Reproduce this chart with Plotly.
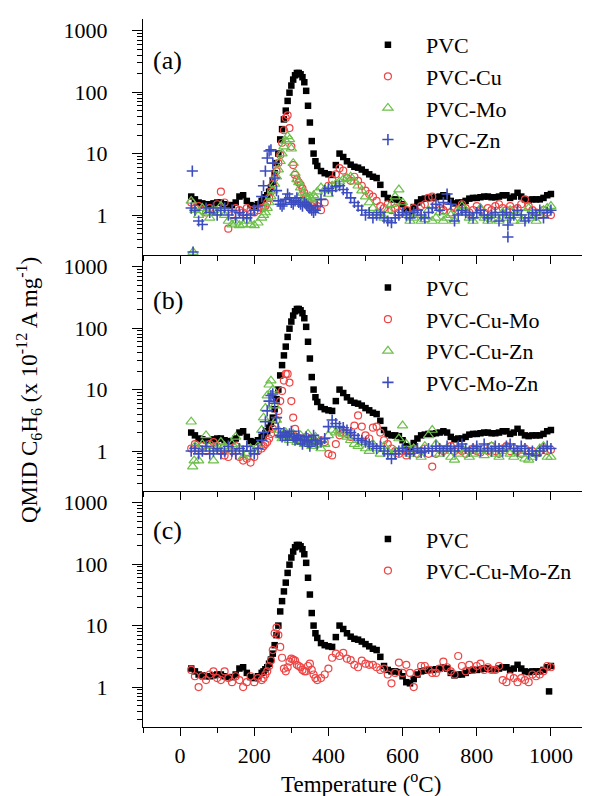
import plotly.graph_objects as go

# ---------------- data ----------------
temperature = [
    30, 40, 50, 60, 70, 80, 90, 100, 110, 120,
    130, 140, 150, 160, 170, 180, 190, 200, 210, 220,
    225, 230, 235, 240, 245, 250, 255, 260, 265, 270,
    275, 280, 285, 290, 295, 300, 305, 310, 315, 320,
    325, 330, 335, 340, 345, 350, 355, 360, 365, 370,
    380, 390, 400, 410, 420, 430, 440, 450, 460, 470,
    480, 490, 500, 510, 520, 530, 540, 550, 560, 570,
    580, 590, 600, 610, 620, 630, 640, 650, 660, 670,
    680, 690, 700, 710, 720, 730, 740, 750, 760, 770,
    780, 790, 800, 810, 820, 830, 840, 850, 860, 870,
    880, 890, 900, 910, 920, 930, 940, 950, 960, 970,
    980, 990, 1000,
]

pvc = [
    2.0, 1.8, 1.6, 1.55, 1.5, 1.5, 1.55, 1.6, 1.6, 1.5,
    1.45, 1.45, 1.6, 2.0, 2.1, 1.7, 1.45, 1.4, 1.5, 1.7,
    1.8, 1.95, 2.1, 2.4, 2.8, 3.5, 4.8, 7.0, 10, 17,
    25, 36, 50, 72, 98, 128, 160, 188, 205, 205,
    195, 175, 145, 105, 60, 32, 16, 10, 7.5, 6.3,
    5.2, 4.8, 4.6, 4.5, 6.5, 10, 8.8, 7.5, 6.6, 6.1,
    5.9, 5.5, 5.0, 4.6, 4.2, 4.0, 3.1, 2.2, 1.9, 1.8,
    1.8, 1.75, 1.5, 1.2, 1.15, 1.35, 1.6, 1.8, 1.85, 1.9,
    1.9, 1.95, 2.0, 2.1, 2.0, 1.7, 1.55, 1.6, 1.6, 1.7,
    1.85, 1.9, 1.9, 1.95, 2.0, 2.0, 1.95, 1.95, 2.0, 2.1,
    2.1, 1.9, 2.0, 2.3, 2.0, 1.8, 1.75, 1.8, 1.8, 1.8,
    1.9, 2.1, 2.2,
]

pvc_cu = [
    1.6, 1.3, 1.4, 1.2, 1.1, 1.3, 1.2, 1.5, 2.4, 1.6,
    0.6, 1.0, 1.3, 1.2, 1.1, 1.3, 1.2, 1.1, 1.2, 1.3,
    1.3, 1.4, 1.6, 1.9, 2.4, 3.2, 4.0, 5.2, 7.0, 9.5,
    15, 24, 38, 42, 26, 13, 6.5, 4.5, 3.8, 3.4,
    3.1, 2.7, 2.3, 2.0, 1.6, 1.3, 1.4, 1.5, 1.3, 1.4,
    1.2, 1.6, 3.0, 3.8, 4.6, 5.8, 5.3, 4.0, 3.6, 4.2,
    3.6, 3.0, 2.5, 2.2, 2.0, 1.7, 1.4, 1.3, 1.5, 1.2,
    1.3, 1.1, 1.4, 1.2, 1.0, 1.3, 1.1, 1.4, 1.5, 1.9,
    2.0, 1.5, 1.3, 1.2, 1.4, 1.1, 1.3, 1.2, 1.5, 1.3,
    1.1, 1.2, 1.4, 1.2, 1.1, 1.3, 1.2, 1.4, 1.5, 1.3,
    1.2, 1.4, 1.2, 1.3, 1.5, 1.8, 1.4, 1.2, 1.1, 1.0,
    1.2, 1.1, 1.0,
]

pvc_mo = [
    1.7, 1.2, 1.0, 1.3, 1.1, 0.9, 1.2, 1.1, 1.4, 1.0,
    0.8, 0.7, 0.75, 0.68, 0.7, 0.8, 0.7, 0.68, 0.75, 0.9,
    1.0, 1.1, 1.3, 1.6, 2.0, 2.5, 3.2, 4.2, 5.5, 7.5,
    10, 13, 16, 19, 17, 12, 7.0, 4.8, 3.8, 3.4,
    2.8, 2.3, 2.0, 1.9, 1.8, 2.0, 1.8, 2.1, 1.9, 2.4,
    2.8, 2.6, 2.2, 3.0, 3.2, 3.5, 3.8, 4.0, 4.2, 3.5,
    3.0, 2.5, 2.0, 1.6, 1.3, 1.1, 1.0, 0.9, 1.2, 1.5,
    2.0, 2.6, 1.6, 1.0, 0.8, 0.9, 1.0, 0.8, 0.85, 1.2,
    0.8, 0.9, 1.1, 0.8, 0.9, 1.0, 0.8, 1.1, 1.4, 1.2,
    0.9, 0.8, 1.0, 1.3, 0.9, 0.8, 0.85, 1.0, 0.8, 1.1,
    0.9, 1.2, 0.8, 1.0, 0.8, 1.1, 1.3, 0.9, 0.8, 1.0,
    1.2, 1.3, 1.4,
]

pvc_zn = [
    1.3, 1.2, 0.8, 0.7, 1.3, 1.1, 1.3, 1.0, 1.2, 1.3,
    1.0, 1.2, 0.9, 1.1, 1.0, 0.9, 1.0, 1.2, 1.4, 2.0,
    3.0, 5.2, 8.5, 11, 11.5, 7.0, 4.0, 2.5, 1.7, 1.5,
    1.4, 1.5, 1.8, 2.2, 1.9, 1.6, 1.5, 1.7, 1.9, 1.6,
    1.5, 1.4, 1.6, 1.5, 1.4, 1.3, 1.2, 1.1, 1.2, 1.4,
    1.8, 2.5, 2.7, 2.5, 2.9, 3.0, 2.6, 2.3, 1.9, 1.6,
    1.4, 1.2, 1.0, 1.1, 0.9, 1.0, 1.1, 0.9, 0.8, 0.75,
    0.9, 1.0, 1.1, 1.0, 0.9, 1.1, 1.2, 1.0, 0.9, 1.1,
    1.3, 1.5, 1.2, 1.6, 2.2, 1.5, 0.8, 1.0, 1.2, 1.1,
    1.0, 0.9, 1.1, 1.2, 1.0, 0.9, 1.0, 1.1, 0.8, 1.0,
    1.1, 0.9, 1.0, 1.2, 1.0, 0.8, 0.9, 1.1, 1.0, 1.2,
    0.9, 1.1, 1.2,
]

pvc_cu_mo = [
    1.1, 1.3, 1.1, 1.2, 1.0, 1.3, 1.4, 1.2, 1.0, 0.85,
    0.8, 1.0, 1.2, 0.8, 0.7, 0.75, 0.65, 0.8, 1.0, 1.1,
    1.2, 1.3, 1.4, 1.6, 1.9, 2.3, 2.6, 3.2, 4.5, 6.5,
    9.5, 14, 18, 18, 13, 6.5, 3.5, 2.3, 1.7, 1.5,
    1.6, 1.4, 1.5, 1.7, 1.5, 1.3, 1.6, 1.5, 1.4, 1.3,
    1.5, 1.4, 0.9, 0.85, 1.3, 1.8, 2.0, 1.9, 1.7, 2.6,
    3.8, 2.5, 1.8, 1.6, 2.4, 2.5, 2.0, 1.5, 1.3, 1.1,
    1.0, 0.9, 1.0, 0.85, 1.0, 1.1, 0.9, 1.0, 1.1, 0.9,
    0.56, 0.9, 1.1, 1.0, 1.1, 1.2, 1.0, 1.1, 1.0, 0.9,
    1.0, 1.1, 1.0, 0.95, 1.1, 1.0, 1.2, 1.0, 0.9, 1.1,
    1.2, 1.0, 1.1, 1.0, 0.9, 1.1, 1.0, 1.0, 0.9, 1.0,
    1.1, 1.0, 1.05,
]

pvc_cu_zn = [
    3.0, 1.2, 0.7, 1.3, 1.8, 1.2, 0.7, 1.1, 1.4, 1.2,
    1.0, 1.3, 1.7, 1.1, 0.8, 0.9, 1.1, 1.0, 1.2, 2.2,
    3.5, 5.0, 8.0, 12, 14, 10, 5.5, 3.2, 2.2, 1.8,
    1.6, 1.8, 2.0, 1.7, 1.5, 1.7, 1.9, 1.6, 1.4, 1.6,
    1.8, 1.5, 1.3, 1.6, 1.9, 1.4, 1.2, 1.5, 1.7, 1.3,
    1.1, 1.3, 1.8, 2.2, 2.0, 2.1, 1.9, 1.7, 1.5, 1.3,
    1.2, 1.4, 1.1, 1.0, 1.3, 1.1, 0.9, 1.2, 1.0, 0.8,
    1.0, 1.6, 2.6, 1.3, 0.9, 1.1, 1.0, 0.8, 1.2, 1.8,
    2.2, 1.3, 0.9, 1.0, 1.1, 0.8, 0.72, 0.9, 1.1, 1.0,
    0.8, 0.9, 1.1, 1.0, 0.85, 1.0, 1.2, 0.9, 0.8, 1.0,
    1.1, 0.9, 0.8, 1.0, 0.9, 0.75, 0.72, 0.8, 0.9, 1.1,
    1.2, 0.8, 0.8,
]

pvc_mo_zn = [
    1.0, 1.1, 0.9, 1.0, 1.2, 0.9, 1.0, 1.1, 0.9, 1.0,
    1.2, 1.0, 0.9, 1.1, 1.0, 1.2, 1.0, 0.9, 1.1, 1.5,
    2.0, 3.0, 4.5, 6.5, 8.0, 8.5, 6.0, 3.5, 2.3, 1.8,
    1.7, 2.0, 1.8, 1.5, 1.9, 2.1, 1.7, 1.5, 1.6, 1.8,
    1.5, 1.3, 1.5, 1.7, 1.4, 1.2, 1.5, 1.8, 1.5, 1.3,
    1.4, 1.6, 2.5, 3.2, 2.8, 2.5, 2.4, 2.2, 2.0, 1.8,
    1.6, 1.5, 1.4, 1.3, 1.2, 1.1, 1.2, 1.0, 0.9, 0.75,
    0.9, 1.0, 1.1, 1.0, 0.9, 1.0, 1.1, 0.95, 1.0, 1.1,
    1.0, 1.2, 1.1, 1.0, 1.2, 1.1, 1.0, 1.2, 1.3, 1.1,
    1.0, 1.1, 1.2, 1.0, 1.3, 1.1, 1.0, 1.2, 1.1, 1.0,
    1.2, 1.3, 1.1, 1.0, 1.2, 1.1, 0.9, 1.0, 0.85, 1.0,
    1.1, 1.2, 1.1,
]

pvc_cu_mo_zn = [
    1.9, 1.5, 1.0, 1.5, 1.3, 1.6, 1.8, 1.4, 1.3, 1.8,
    1.4, 1.2, 1.5, 1.3, 1.0, 1.2, 1.5, 1.2, 1.4, 1.3,
    1.4, 1.6, 1.8, 2.2, 2.7, 4.0, 7.5, 9.3, 7.0, 4.5,
    3.0, 2.0, 1.8, 2.1, 2.6, 2.9, 2.8, 2.7, 2.3, 2.2,
    2.1, 1.9, 1.8, 1.8, 2.2, 2.4, 1.9, 1.6, 1.4, 1.3,
    1.4, 1.6, 2.0, 3.0, 3.5, 3.2, 3.6, 2.9, 2.75, 2.3,
    2.1, 2.7, 2.4, 2.3, 2.3, 2.1, 1.9, 2.0, 1.6, 1.15,
    1.7, 2.5, 1.7, 2.3, 1.7, 1.0, 1.7, 2.2, 2.2, 1.9,
    1.7, 1.7, 2.0, 2.6, 2.1, 1.8, 1.6, 3.2, 2.2, 1.8,
    2.3, 1.9, 2.2, 2.4, 1.9, 2.1, 1.9, 1.9, 2.2, 1.3,
    1.2, 1.5, 1.4, 1.2, 1.4, 1.3, 1.2, 1.6, 1.5, 1.6,
    1.8, 2.2, 2.1,
]

# isolated points that sit off the main grid
zn_extra_temp = [33, 35, 884, 884]
zn_extra_val = [5.2, 0.25, 0.69, 0.44]
mo_extra_temp = [35]
mo_extra_val = [0.25]
cu_zn_extra_temp = [34, 38]
cu_zn_extra_val = [0.56, 0.7]
pvc_c_extra_temp = [995]
pvc_c_extra_val = [0.85]

for s in (pvc, pvc_cu, pvc_mo, pvc_zn, pvc_cu_mo, pvc_cu_zn, pvc_mo_zn, pvc_cu_mo_zn):
    assert len(s) == len(temperature), len(s)

y_tick_vals = [1, 10, 100, 1000]
y_tick_text = ["1", "10", "100", "1000"]
x_tick_vals = [0, 200, 400, 600, 800, 1000]

# ---------------- styles ----------------
FONT = "Liberation Serif"
RED = "#ee4444"
GREEN = "#6cc04a"
BLUE = "#3a4cc0"

s_pvc = dict(symbol="square", size=6.5, color="black")
s_red = dict(symbol="circle-open", size=7, color=RED, line=dict(width=1.2, color=RED))
s_green = dict(symbol="triangle-up-open", size=9, color=GREEN, line=dict(width=1.2, color=GREEN))
s_blue = dict(symbol="cross-thin-open", size=8, color=BLUE, line=dict(width=1.6, color=BLUE))

fig = go.Figure()


def add(panel, name, xs, ys, marker):
    xa, ya, lg = panel
    fig.add_trace(go.Scatter(
        x=xs, y=ys, mode="markers", name=name, marker=marker,
        xaxis=xa, yaxis=ya, legend=lg, showlegend=True,
    ))


pa = ("x", "y", "legend")
pb = ("x2", "y2", "legend2")
pc = ("x3", "y3", "legend3")

add(pa, "PVC", temperature, pvc, s_pvc)
add(pa, "PVC-Cu", temperature, pvc_cu, s_red)
add(pa, "PVC-Mo", temperature + mo_extra_temp, pvc_mo + mo_extra_val, s_green)
add(pa, "PVC-Zn", temperature + zn_extra_temp, pvc_zn + zn_extra_val, s_blue)

add(pb, "PVC", temperature, pvc, s_pvc)
add(pb, "PVC-Cu-Mo", temperature, pvc_cu_mo, s_red)
add(pb, "PVC-Cu-Zn", temperature + cu_zn_extra_temp, pvc_cu_zn + cu_zn_extra_val, s_green)
add(pb, "PVC-Mo-Zn", temperature, pvc_mo_zn, s_blue)

add(pc, "PVC", temperature + pvc_c_extra_temp, pvc + pvc_c_extra_val, s_pvc)
add(pc, "PVC-Cu-Mo-Zn", temperature, pvc_cu_mo_zn, s_red)

# ---------------- axes ----------------
tickfont = dict(family=FONT, size=22, color="black")


def xaxis(anchor, labels):
    return dict(
        anchor=anchor, domain=[0, 1], range=[-100, 1100],
        showline=True, linecolor="black", linewidth=1.2,
        ticks="outside", ticklen=8, tickwidth=1.2, tickcolor="black",
        tickvals=x_tick_vals, showticklabels=labels,
        minor=dict(ticks="outside", ticklen=5, tickwidth=1.2, tickcolor="black",
                   dtick=100, tick0=0),
        showgrid=False, zeroline=False, tickfont=tickfont,
        ticklabelstandoff=0,
    )


def yaxis(anchor, dom):
    return dict(
        anchor=anchor, domain=dom, type="log", range=[-0.65, 3.19],
        showline=True, linecolor="black", linewidth=1.2,
        ticks="outside", ticklen=10, tickwidth=1.2, tickcolor="black",
        tickvals=y_tick_vals, ticktext=y_tick_text,
        minor=dict(ticks="outside", ticklen=5, tickwidth=1, tickcolor="black", dtick="D1"),
        showgrid=False, zeroline=False, tickfont=tickfont,
        ticklabelstandoff=20,
    )


legend_font = dict(family=FONT, size=22, color="black")


def legend(y):
    return dict(x=0.465, y=y, xanchor="left", yanchor="top", bgcolor="rgba(0,0,0,0)",
                font=legend_font, itemwidth=66, tracegroupgap=0, borderwidth=0)


label_font = dict(family=FONT, size=26, color="black")

# The page body has an 8px margin, so the figure is sized to fill the rest of the window.
fig.update_layout(
    width=582, height=788,
    margin=dict(l=135, r=2, t=11, b=69),
    paper_bgcolor="white", plot_bgcolor="white",
    font=dict(family=FONT, color="black"),
    xaxis=xaxis("y", False),
    xaxis2=xaxis("y2", False),
    xaxis3=xaxis("y3", True),
    yaxis=yaxis("x", [2 / 3, 1]),
    yaxis2=yaxis("x2", [1 / 3, 2 / 3]),
    yaxis3=yaxis("x3", [0, 1 / 3]),
    legend=legend(0.993),
    legend2=legend(0.650),
    legend3=legend(0.295),
    annotations=[
        dict(text="(a)", x=0.018, y=0.942, xref="paper", yref="paper", xanchor="left",
             yanchor="middle", showarrow=False, font=label_font),
        dict(text="(b)", x=0.018, y=0.603, xref="paper", yref="paper", xanchor="left",
             yanchor="middle", showarrow=False, font=label_font),
        dict(text="(c)", x=0.018, y=0.278, xref="paper", yref="paper", xanchor="left",
             yanchor="middle", showarrow=False, font=label_font),
        dict(text="Temperature (<sup>o</sup>C)", x=0.49, y=-0.079, xref="paper", yref="paper",
             xanchor="center", yanchor="middle", showarrow=False,
             font=dict(family=FONT, size=23)),
        dict(text="QMID C<sub>6</sub>H<sub>6</sub> (x 10<sup>-12</sup> A mg<sup>-1</sup>)",
             x=-0.256, y=0.476, xref="paper", yref="paper", textangle=-90,
             xanchor="center", yanchor="middle", showarrow=False,
             font=dict(family=FONT, size=23)),
    ],
)

fig.write_html("out.html")
